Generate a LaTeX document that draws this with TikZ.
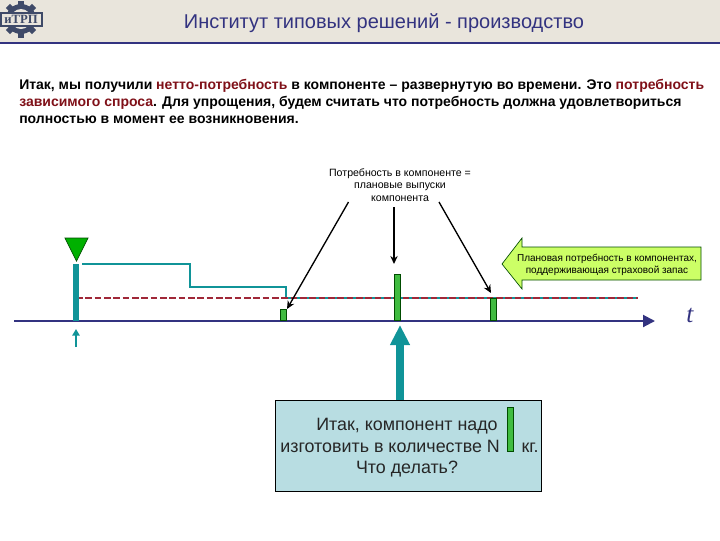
\documentclass[tikz,border=0pt]{standalone}
\usepackage{fontspec}
\setmainfont{Liberation Sans}
\newfontfamily\serifb{Liberation Serif}
\usetikzlibrary{arrows.meta,calc}
\definecolor{band}{HTML}{E9E5DC}
\definecolor{navy}{HTML}{333380}
\definecolor{tealc}{HTML}{109498}
\definecolor{darkred}{HTML}{7F1018}
\definecolor{dashred}{HTML}{A02838}
\definecolor{barg}{HTML}{40BC40}
\definecolor{trig}{HTML}{00B000}
\definecolor{boxb}{HTML}{B8DDE2}
\definecolor{callg}{HTML}{CCFF66}
\definecolor{gearc}{HTML}{3F4A68}
\tikzset{
 lbl/.style={inner sep=0pt,align=center},
 ptr/.style={draw=black,line width=1pt,-{Stealth[length=6pt,width=5.5pt]}},
 tealline/.style={draw=tealc,line width=1.5pt},
 bar/.style={draw=black!70!green,fill=barg,line width=.5pt,inner sep=0pt,minimum width=4.5pt},
}
\begin{document}
\begin{tikzpicture}[x=0.75pt,y=-0.75pt]
\useasboundingbox (0,0) rectangle (720,540);
% header
\fill[band] (0,0) rectangle (720,42);
\draw[navy,line width=1.5pt] (0,43) -- (720,43);
\node[inner sep=0pt,text=navy,font=\fontsize{15}{18}\selectfont] (title) at (384,23) {Институт типовых решений - производство};
% logo
\begin{scope}[shift={(21,19)}]
 \fill[gearc] (0,0) circle (15);
 \foreach \a in {0,45,...,315}{\fill[gearc,rotate=\a] (-3,-13) rectangle (3,-18.5);}
 \fill[band] (0,0) circle (10);
\end{scope}
\fill[band] (1,13) rectangle (42,26);
\draw[gearc,line width=.8pt] (1,13) rectangle (42,26);
\node[inner sep=0pt,text=gearc,font=\serifb\bfseries\fontsize{9.5}{10}\selectfont] (logo) at (21,19.5) {иТРП};
% body
\node[anchor=north west,inner sep=0pt,align=left,font=\bfseries\fontsize{10.5}{12.6}\selectfont] (body) at (19,79)
{Итак, мы получили \textcolor{darkred}{нетто-потребность} в компоненте – развернутую во времени. Это \textcolor{darkred}{потребность}\\
\textcolor{darkred}{зависимого спроса}. Для упрощения, будем считать что потребность должна удовлетвориться\\
полностью в момент ее возникновения.};
% timeline
\coordinate (axs) at (14,321); \coordinate (axe) at (655,321);
\coordinate (stA) at (82,264); \coordinate (stB) at (190,264); \coordinate (stC) at (190,287);
\coordinate (stD) at (286,287); \coordinate (stE) at (286,298); \coordinate (stF) at (638,298);
\coordinate (dA) at (76,298);
\draw[tealline,line join=miter] (stA) -- (stB) -- (stC) -- (stD) -- (stE) -- (stF);
\draw[dashred,line width=1.7pt,dash pattern=on 5pt off 2pt] (dA) -- (stF);
\draw[navy,line width=1.5pt,-{Triangle[length=9pt,width=9pt]}] (axs) -- (axe);
\node[inner sep=0pt,text=navy,font=\serifb\itshape\fontsize{19}{20}\selectfont] (t) at (690,315) {t};
% start marker
\draw[tealc,line width=4pt] (76,264) -- (76,321);
\draw[fill=trig,draw=black!70!green,line width=.5pt] (65,238) -- (88,238) -- (76.5,261) -- cycle;
\coordinate (smS) at (76,347); \coordinate (smE) at (76,329);
\draw[tealc,line width=2pt,-{Triangle[length=5pt,width=5.5pt]}] (smS) -- (smE);
% bars
\node[bar,minimum height=8.5pt,anchor=south] (b1) at (283,321) {};
\node[bar,minimum height=34.5pt,anchor=south] (b2) at (397,321) {};
\node[bar,minimum height=17pt,anchor=south] (b3) at (493.5,321) {};
% label
\node[lbl,font=\fontsize{7.95}{9.4}\selectfont] (need) at (400,185) {Потребность в компоненте =\\ плановые выпуски\\ компонента};
\coordinate (n1) at (348.5,202); \coordinate (n2) at (394,207); \coordinate (n3) at (439,202);
\draw[ptr] (n1) -- (287,309);
\draw[ptr] (n2) -- (394,264);
\draw[ptr] (n3) -- (491,293);
% callout
\draw[fill=callg,draw=black!70!green,line width=.5pt] (502,264) -- (522,238) -- (522,247) -- (701,247) -- (701,280) -- (522,280) -- (522,289) -- cycle;
\node[lbl,font=\fontsize{7.5}{9}\selectfont] (call) at (607,264.5) {Плановая потребность в компонентах,\\ поддерживающая страховой запас};
% box
\node[draw=black,line width=.6pt,fill=boxb,minimum width=266*.75pt,minimum height=91*.75pt,inner sep=0pt,anchor=north west] (box) at (275,400) {};
\node[inner sep=0pt,align=center,font=\fontsize{13.4}{16.2}\selectfont,anchor=north,text=black!85] (boxtext) at (407,418) {Итак, компонент надо\\\hspace*{3.75pt}изготовить в количестве N \hspace{12.5pt}кг.\\Что делать?};
\node[bar,minimum width=4.5pt,minimum height=33pt,anchor=north] (b4) at (510,407) {};
\coordinate (bigS) at (400,400); \coordinate (bigE) at (400,325);
\draw[tealc,line width=5.5pt,-{Triangle[length=15pt,width=14pt]}] (bigS) -- (bigE);
\end{tikzpicture}
\end{document}
